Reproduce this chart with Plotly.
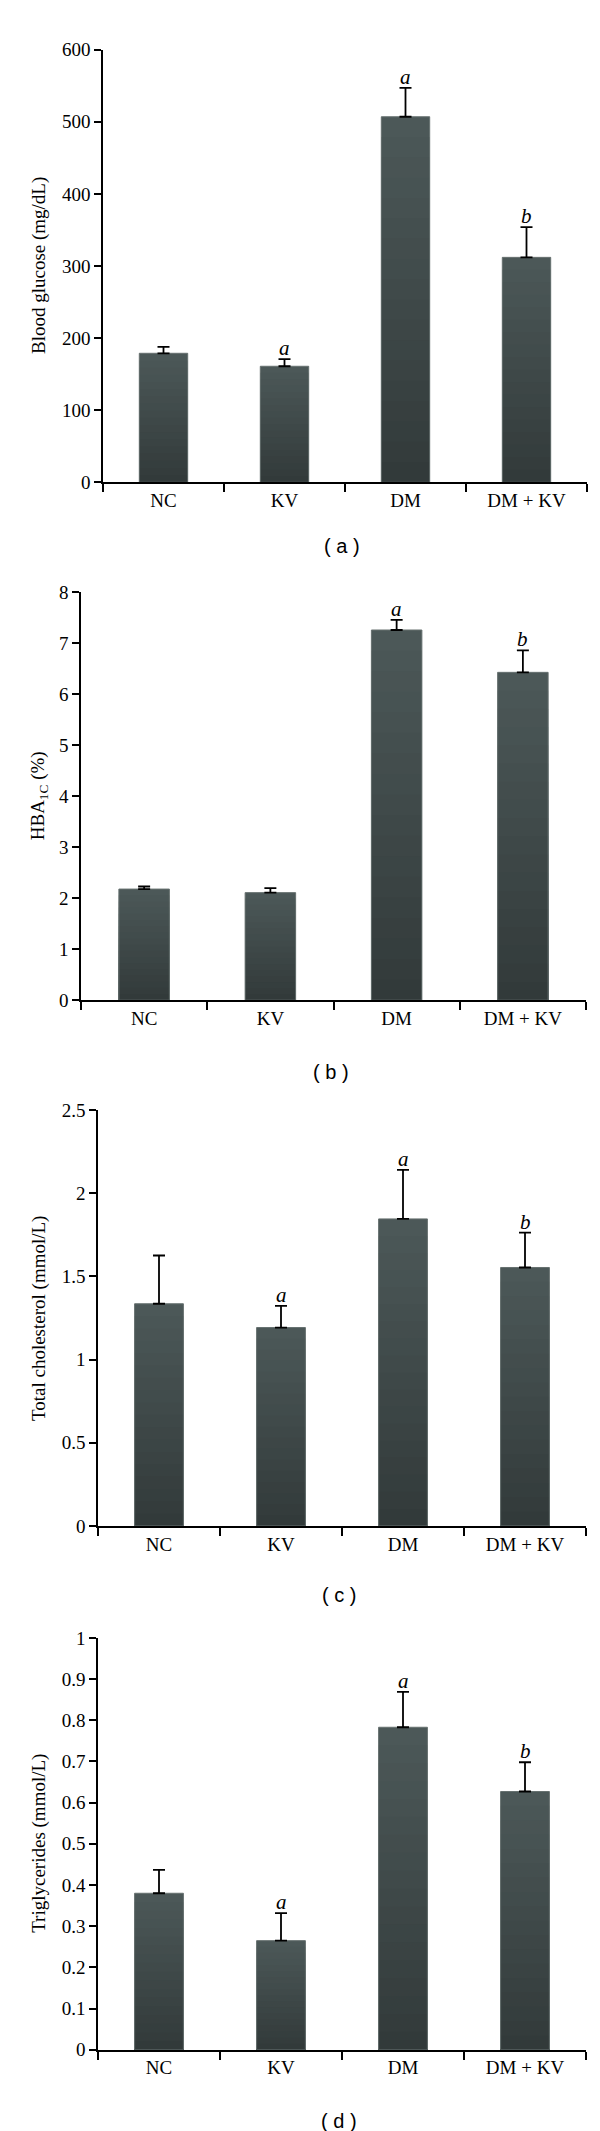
import plotly.graph_objects as go

categories = ["NC", "KV", "DM", "DM + KV"]

glucose = [179, 161, 507, 312]
glucose_err = [9, 10, 40, 42]
glucose_sig = ["", "a", "a", "b"]

hba1c = [2.18, 2.11, 7.26, 6.43]
hba1c_err = [0.05, 0.09, 0.20, 0.43]
hba1c_sig = ["", "", "a", "b"]

cholesterol = [1.336, 1.193, 1.846, 1.554]
cholesterol_err = [0.29, 0.13, 0.295, 0.21]
cholesterol_sig = ["", "a", "a", "b"]

triglycerides = [0.380, 0.265, 0.783, 0.627]
triglycerides_err = [0.057, 0.067, 0.086, 0.071]
triglycerides_sig = ["", "a", "a", "b"]

W, H = 600, 2131
SERIF = "Liberation Serif"
SANS = "Liberation Sans"
TOP_RGB = (76, 88, 88)
BOT_RGB = (50, 58, 58)
STEPS = 18

panels = [
    dict(vals=glucose, err=glucose_err, sig=glucose_sig, rng=[0, 600], dtick=100,
         title="Blood glucose (mg/dL)", label="( a )",
         x0=95, x1=579, ytop=32, ybot=469, lab_y=533),
    dict(vals=hba1c, err=hba1c_err, sig=hba1c_sig, rng=[0, 8], dtick=1,
         title="HBA<sub>1C</sub> (%)", label="( b )",
         x0=73, x1=578, ytop=580, ybot=992, lab_y=1064),
    dict(vals=cholesterol, err=cholesterol_err, sig=cholesterol_sig, rng=[0, 2.5], dtick=0.5,
         title="Total cholesterol (mmol/L)", label="( c )",
         x0=90, x1=578, ytop=1103, ybot=1523, lab_y=1593),
    dict(vals=triglycerides, err=triglycerides_err, sig=triglycerides_sig, rng=[0, 1], dtick=0.1,
         title="Triglycerides (mmol/L)", label="( d )",
         x0=90, x1=578, ytop=1636, ybot=2052, lab_y=2124),
]


def mix(t):
    r = [round(a + (b - a) * t) for a, b in zip(TOP_RGB, BOT_RGB)]
    return f"rgb({r[0]},{r[1]},{r[2]})"


fig = go.Figure()
annotations = []
layout = {}

for i, p in enumerate(panels, start=1):
    xa = "x" if i == 1 else f"x{i}"
    ya = "y" if i == 1 else f"y{i}"
    # vertical gradient: overlaid bars of decreasing height, darker toward base
    for k in range(STEPS):
        frac = 1 - k / STEPS
        fig.add_trace(go.Bar(
            x=categories, y=[v * frac for v in p["vals"]], xaxis=xa, yaxis=ya,
            width=0.4, marker=dict(color=mix(k / (STEPS - 1)), line=dict(width=0)),
            showlegend=False, hoverinfo="skip",
        ))
    # outline + error bars on top
    fig.add_trace(go.Bar(
        x=categories, y=p["vals"], xaxis=xa, yaxis=ya, width=0.4,
        marker=dict(color="rgba(0,0,0,0)", line=dict(color="#66706f", width=1)),
        error_y=dict(type="data", symmetric=False, array=p["err"],
                     arrayminus=[0] * len(p["err"]), color="black",
                     thickness=1.8, width=6),
        showlegend=False, hoverinfo="skip",
    ))
    xkey = "xaxis" if i == 1 else f"xaxis{i}"
    ykey = "yaxis" if i == 1 else f"yaxis{i}"
    layout[xkey] = dict(
        domain=[p["x0"] / W, p["x1"] / W], anchor=ya, type="category",
        range=[-0.5, 3.5], showline=True, linecolor="black", linewidth=1.5,
        ticks="outside", tickson="boundaries", ticklen=8, tickwidth=1.5,
        tickcolor="black", showgrid=False, zeroline=False,
        tickfont=dict(family=SERIF, size=19, color="black"),
    )
    layout[ykey] = dict(
        domain=[1 - p["ybot"] / H, 1 - p["ytop"] / H], anchor=xa,
        range=p["rng"], dtick=p["dtick"], tick0=0,
        showline=True, linecolor="black", linewidth=1.5,
        ticks="outside", ticklen=7, tickwidth=1.5, tickcolor="black",
        showgrid=False, zeroline=False,
        tickfont=dict(family=SERIF, size=19, color="black"),
    )
    annotations.append(dict(
        xref="paper", yref="paper", x=31 / W, y=1 - (p["ytop"] + p["ybot"]) / 2 / H,
        text=p["title"], textangle=-90, showarrow=False,
        font=dict(family=SERIF, size=19, color="black"),
        xanchor="center", yanchor="middle",
    ))
    annotations.append(dict(
        xref="paper", yref="paper", x=(p["x0"] + p["x1"]) / 2 / W - 0.005,
        y=1 - p["lab_y"] / H, text=p["label"], showarrow=False,
        font=dict(family=SANS, size=20, color="black"),
        xanchor="center", yanchor="middle",
    ))
    for c, v, e, s in zip(categories, p["vals"], p["err"], p["sig"]):
        if s:
            annotations.append(dict(
                xref=xa, yref=ya, x=c, y=v + e, text=f"<i>{s}</i>",
                showarrow=False, yanchor="bottom", yshift=-3,
                font=dict(family=SERIF, size=21, color="black"),
            ))

fig.update_layout(
    width=W, height=H, margin=dict(l=0, r=0, t=0, b=0),
    paper_bgcolor="white", plot_bgcolor="white", barmode="overlay",
    annotations=annotations, **layout,
)

fig.write_html("out.html")
